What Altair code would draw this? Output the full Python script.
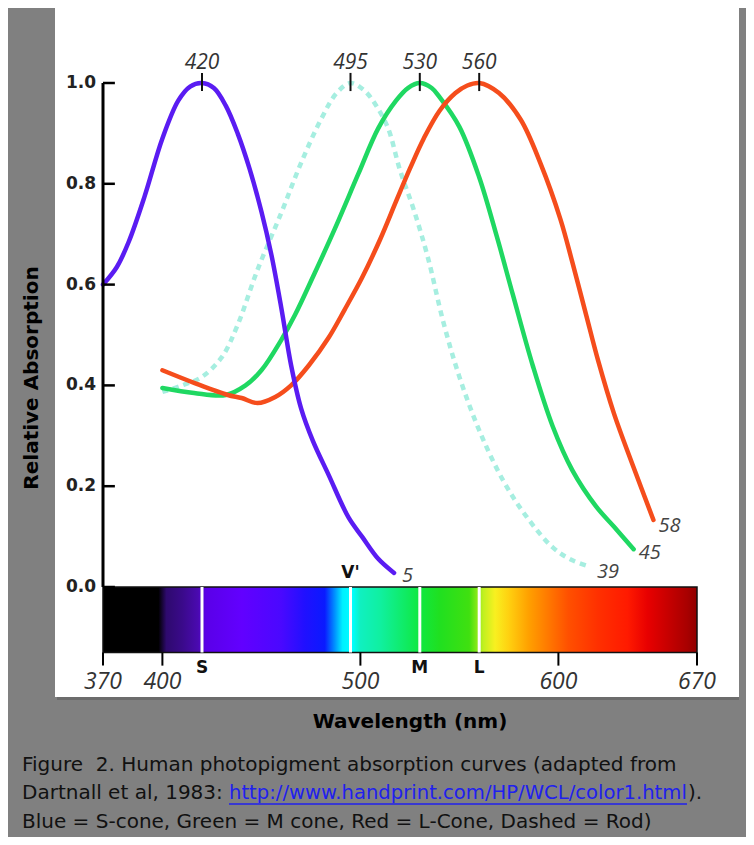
import altair as alt
import pandas as pd

# ---------------- data ----------------
S_NM = [370, 377, 383, 391, 400, 408, 414, 420, 426, 432, 438, 444, 450, 455, 460, 465, 470, 476, 484, 494, 501, 509, 517]
S_VAL = [0.60, 0.635, 0.685, 0.775, 0.89, 0.965, 0.993, 1.0, 0.99, 0.955, 0.90, 0.83, 0.745, 0.66, 0.555, 0.44, 0.355, 0.29, 0.222, 0.138, 0.099, 0.056, 0.028]

M_NM = [400, 416, 432, 442, 450, 460, 467, 476, 487, 499, 509, 518, 524, 530, 536, 540, 550, 560, 569, 577, 587, 597, 607, 619, 628, 638]
M_VAL = [0.395, 0.385, 0.381, 0.40, 0.43, 0.49, 0.54, 0.615, 0.71, 0.82, 0.91, 0.965, 0.99, 1.0, 0.99, 0.972, 0.913, 0.813, 0.694, 0.58, 0.44, 0.32, 0.232, 0.16, 0.12, 0.075]

L_NM = [400, 416, 433, 440, 448, 457, 465, 474, 484, 492, 501, 510, 518, 525, 532, 540, 548, 554, 560, 570, 581, 591, 601, 607, 614, 620, 628, 638, 648]
L_VAL = [0.43, 0.405, 0.381, 0.375, 0.365, 0.377, 0.40, 0.44, 0.495, 0.55, 0.615, 0.69, 0.765, 0.83, 0.89, 0.945, 0.98, 0.995, 1.0, 0.98, 0.927, 0.84, 0.73, 0.645, 0.54, 0.45, 0.345, 0.237, 0.133]

ROD_NM = [400, 410, 420, 430, 438, 448, 460, 470, 480, 488, 495, 502, 508, 514, 520, 527, 534, 542, 550, 560, 572, 584, 597, 606, 616]
ROD_VAL = [0.387, 0.40, 0.417, 0.456, 0.52, 0.629, 0.742, 0.841, 0.927, 0.98, 1.0, 0.985, 0.955, 0.91, 0.827, 0.748, 0.655, 0.524, 0.417, 0.311, 0.212, 0.139, 0.079, 0.055, 0.04]

PEAK_NM = [420, 495, 530, 560]
PEAK_LABELS = ["420", "495", "530", "560"]

Y_TICKS = [0.0, 0.2, 0.4, 0.6, 0.8, 1.0]
Y_TICK_LABELS = ["0.0", "0.2", "0.4", "0.6", "0.8", "1.0"]

X_TICKS = [370, 400, 500, 600, 670]
X_TICK_LABELS = ["370", "400", "500", "600", "670"]

MARK_NM = [420, 495, 530, 560]
MARK_LABELS = ["S", "V'", "M", "L"]

END_LABELS = ["5", "39", "45", "58"]

SPEC_NM = [370, 398, 402, 410, 418, 422, 440, 460, 472, 482, 487, 491, 496, 500, 510, 520, 530, 540, 555, 562, 568, 575, 585, 597, 605, 620, 635, 645, 655, 665, 670]
SPEC_COLORS = ["#000000", "#000000", "#2e0a6e", "#3a0a8a", "#4a0ab0", "#5a00e8", "#6200ff", "#4a08ff", "#2010ff",
               "#0a1aff", "#0090ff", "#00f0ff", "#00ffff", "#10f0c0", "#10f0a0", "#10ec70", "#10e840", "#20e020",
               "#40e010", "#c0f020", "#f8f020", "#ffd010", "#ffa000", "#ff7000", "#ff5000", "#ff3000", "#ff1a00",
               "#e80000", "#c80000", "#a80000", "#900000"]

CAPTION_1 = "Figure\u00a0 2. Human photopigment absorption curves (adapted from"
CAPTION_2A = "Dartnall et al, 1983: "
CAPTION_LINK = "http://www.handprint.com/HP/WCL/color1.html"
CAPTION_2B = ")."
CAPTION_3 = "Blue = S-cone, Green = M cone, Red = L-Cone, Dashed = Rod)"

# ---------------- layout ----------------
W, H = 684, 689
PX_NM = 1.98
PX_UNIT = 504
X_DOM = [370 - 48 / PX_NM, 670 + (W - 48 - 300 * PX_NM) / PX_NM]
Y_DOM = [-(H - 579) / PX_UNIT, 1 + 75 / PX_UNIT]
BAR_BOTTOM = -0.13

xs = alt.Scale(domain=X_DOM, nice=False, zero=False)
ys = alt.Scale(domain=Y_DOM, nice=False, zero=False)

BOLD = "DejaVu Sans"
ITAL = "Open Sans"


def X(f="nm"):
    return alt.X(f"{f}:Q", scale=xs, axis=None)


def Y(f="v"):
    return alt.Y(f"{f}:Q", scale=ys, axis=None)


def curve(nm, val, color, dash=None):
    df = pd.DataFrame({"nm": nm, "v": val})
    kw = dict(color=color, strokeWidth=4.5, interpolate="catmull-rom", strokeCap="round")
    if dash:
        kw["strokeDash"] = dash
        kw["strokeCap"] = "butt"
    return alt.Chart(df).mark_line(**kw).encode(x=X(), y=Y())


rod = curve(ROD_NM, ROD_VAL, "#a6eee0", [6, 5])
mcone = curve(M_NM, M_VAL, "#1fd862")
lcone = curve(L_NM, L_VAL, "#f54d1c")
scone = curve(S_NM, S_VAL, "#5a1cf2")

# spectrum bar
grad = alt.LinearGradient(
    gradient="linear",
    stops=[alt.GradientStop(color=c, offset=(n - 370) / 300) for n, c in zip(SPEC_NM, SPEC_COLORS)],
    x1=0, x2=1, y1=0, y2=0,
)
bar_df = pd.DataFrame({"nm": [370], "nm2": [670], "v": [0.0], "v2": [BAR_BOTTOM]})
bar = alt.Chart(bar_df).mark_rect(fill=grad, stroke="#111111", strokeWidth=1.5).encode(
    x=X(), x2="nm2:Q", y=Y(), y2="v2:Q")

marks_df = pd.DataFrame({"nm": MARK_NM, "lab": MARK_LABELS, "v": [0.0] * 4, "v2": [BAR_BOTTOM] * 4,
                         "vl": [-0.16, 0.028, -0.16, -0.16]})
white_lines = alt.Chart(marks_df).mark_rule(color="white", strokeWidth=3).encode(
    x=X(), y=Y(), y2="v2:Q")
mark_text = alt.Chart(marks_df).mark_text(
    font=BOLD, fontWeight="bold", fontSize=17, color="#111111", baseline="middle"
).encode(x=X(), y=Y("vl"), text="lab:N")

# y axis
yaxis_df = pd.DataFrame({"nm": [370], "v": [0.0], "v2": [1.0]})
yaxis = alt.Chart(yaxis_df).mark_rule(color="black", strokeWidth=3).encode(x=X(), y=Y(), y2="v2:Q")
yt_df = pd.DataFrame({"nm": [370] * 6, "nm2": [376] * 6, "v": Y_TICKS, "lab": Y_TICK_LABELS})
yticks = alt.Chart(yt_df).mark_rule(color="black", strokeWidth=2.5).encode(x=X(), x2="nm2:Q", y=Y())
ylabels = alt.Chart(yt_df).mark_text(
    font=BOLD, fontWeight="bold", fontSize=17, color="#222222", align="right",
    baseline="middle", dx=-7
).encode(x=X(), y=Y(), text="lab:N")

# x ticks below bar
xt_df = pd.DataFrame({"nm": X_TICKS, "lab": X_TICK_LABELS, "v": [BAR_BOTTOM] * 5, "v2": [BAR_BOTTOM - 0.026] * 5,
                      "vl": [-0.188] * 5})
xticks = alt.Chart(xt_df).mark_rule(color="black", strokeWidth=2).encode(x=X(), y=Y(), y2="v2:Q")
xlabels = alt.Chart(xt_df).mark_text(
    font=ITAL, fontStyle="italic", fontSize=23, color="#333333", baseline="middle"
).encode(x=X(), y=Y("vl"), text="lab:N")

# peak markers
pk_df = pd.DataFrame({"nm": PEAK_NM, "lab": PEAK_LABELS, "v": [0.984] * 4, "v2": [1.02] * 4, "vl": [1.0] * 4})
pticks = alt.Chart(pk_df).mark_rule(color="#111111", strokeWidth=2).encode(x=X(), y=Y(), y2="v2:Q")
plabels = alt.Chart(pk_df).mark_text(
    font=ITAL, fontStyle="italic", fontSize=21, color="#333333", baseline="middle", dy=-20
).encode(x=X(), y=Y("vl"), text="lab:N")

# end labels
end_df = pd.DataFrame({
    "nm": [S_NM[-1], ROD_NM[-1], M_NM[-1], L_NM[-1]],
    "v": [S_VAL[-1], ROD_VAL[-1], M_VAL[-1], L_VAL[-1]],
    "lab": END_LABELS,
})
end_layers = []
for i, (dx, dy) in enumerate([(8, 3), (7, 5), (5, 4), (5, 6)]):
    end_layers.append(
        alt.Chart(end_df.iloc[[i]]).mark_text(
            font=ITAL, fontStyle="italic", fontSize=20, color="#444444", align="left",
            baseline="middle", dx=dx, dy=dy
        ).encode(x=X(), y=Y(), text="lab:N")
    )


# titles and caption (annotation text, placed in pixels)
def ptext(txt, x, y, **kw):
    base = dict(font="DejaVu Sans", fontSize=20, color="#111111", baseline="middle", align="left")
    base.update(kw)
    return alt.Chart(pd.DataFrame({"t": [txt]})).mark_text(**base).encode(
        x=alt.value(x), y=alt.value(y), text="t:N")


ytitle = ptext("Relative Absorption", -23, 370, angle=270, align="center", fontWeight="bold", fontSize=20,
               color="#000000")
xtitle = ptext("Wavelength (nm)", 355, 714, align="center", fontWeight="bold", fontSize=20, color="#000000")
cap1 = ptext(CAPTION_1, -33, 757)
cap2a = ptext(CAPTION_2A, -33, 785)
cap2l = ptext(CAPTION_LINK, 174, 785, color="#2020ee", fontSize=19.6)
cap2b = ptext(CAPTION_2B, 633, 785)
cap3 = ptext(CAPTION_3, -33, 814)
underline = alt.Chart(pd.DataFrame({"a": [1]})).mark_rule(color="#2020ee", strokeWidth=1.5).encode(
    x=alt.value(174), x2=alt.value(632), y=alt.value(796))
shadow = alt.Chart(pd.DataFrame({"a": [1]})).mark_rule(color="#6c6c6c", strokeWidth=3).encode(
    x=alt.value(2), x2=alt.value(W), y=alt.value(H + 1.5))

chart = alt.layer(
    shadow, bar, white_lines, xticks, xlabels, mark_text,
    rod, mcone, lcone, scone,
    yaxis, yticks, ylabels, pticks, plabels, *end_layers,
    ytitle, xtitle, cap1, cap2a, cap2l, cap2b, cap3, underline,
).properties(
    width=W, height=H,
    padding={"left": 47, "top": 0, "right": 7, "bottom": 140},
    autosize="none",
    background="#808080",
).configure_view(fill="white", stroke=None)

chart.save("out.html", embed_options={"renderer": "svg", "actions": False})
